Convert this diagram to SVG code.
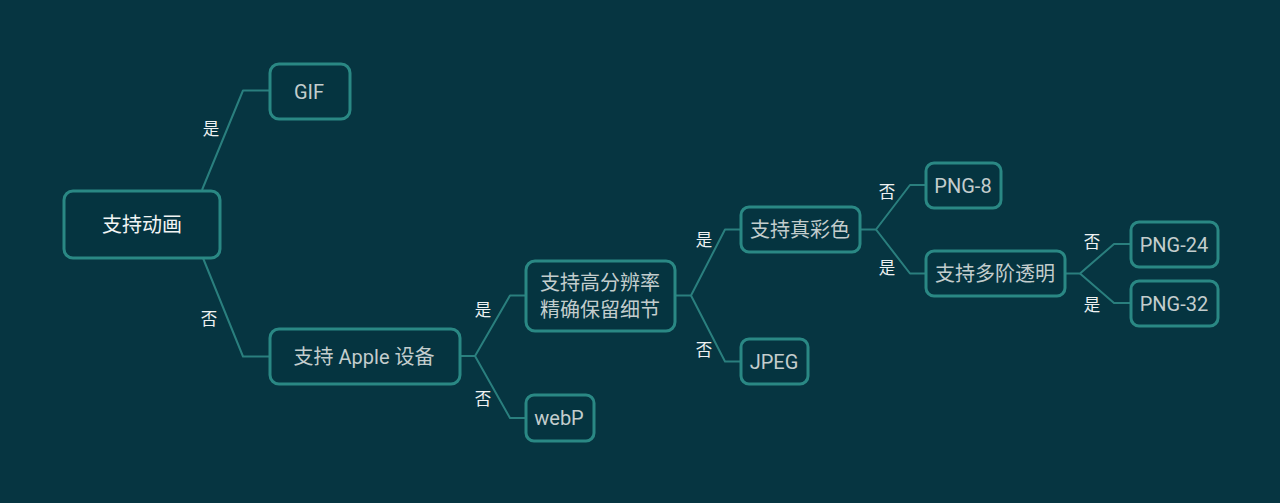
<svg xmlns="http://www.w3.org/2000/svg" width="1280" height="503" viewBox="0 0 1280 503">
<style>
.bg{fill:#063541}
.node rect{fill:#053440;stroke:#2a8884;stroke-width:3}
.node text{font-family:"Roboto","Noto Sans CJK SC",sans-serif;font-size:20px;fill:#c3cdcd;text-anchor:middle;dominant-baseline:central}
#root text{fill:#f2f4f4;font-size:20px}
.conn path{fill:none;stroke:#2a7f7e;stroke-width:2;stroke-linejoin:round}
.lbl{font-family:"Noto Sans CJK SC",sans-serif;font-size:16.5px;fill:#eef2f2;text-anchor:middle;dominant-baseline:central}
</style>
<rect class="bg" width="1280" height="503"/>
<g id="connectors" class="conn">
<path d="M202,190 L243,90.5 L269,90.5"/>
<path d="M203,258 L243,356.5 L269,356.5"/>
<path d="M460,356 L475,356 L510,295.5 L525,295.5"/>
<path d="M475,356 L510,418 L525,418"/>
<path d="M675,295.5 L691,295.5 L725,229.5 L740,229.5"/>
<path d="M691,295.5 L725,361.5 L740,361.5"/>
<path d="M860,229.5 L876,229.5 L910,185 L925,185"/>
<path d="M876,229.5 L910,273.5 L925,273.5"/>
<path d="M1065,273.5 L1080,273.5 L1114,244 L1130,244"/>
<path d="M1080,273.5 L1114,303 L1130,303"/>
</g>
<g id="labels">
<text class="lbl" x="211" y="128">是</text>
<text class="lbl" x="209" y="318">否</text>
<text class="lbl" x="483" y="309">是</text>
<text class="lbl" x="483" y="398">否</text>
<text class="lbl" x="704" y="239">是</text>
<text class="lbl" x="704" y="349">否</text>
<text class="lbl" x="887" y="191">否</text>
<text class="lbl" x="887" y="267">是</text>
<text class="lbl" x="1092" y="241">否</text>
<text class="lbl" x="1092" y="304">是</text>
</g>
<g id="root" class="node"><rect x="64" y="191" width="156" height="67" rx="9"/><text x="142" y="224.5">支持动画</text></g>
<g id="gif" class="node"><rect x="270" y="64" width="80" height="55" rx="9"/><text x="309" y="91.5">GIF</text></g>
<g id="apple" class="node"><rect x="270" y="329" width="190" height="55" rx="9"/><text x="364" y="356.5">支持 Apple 设备</text></g>
<g id="hires" class="node"><rect x="526" y="261" width="149" height="70" rx="9"/><text x="600" y="283">支持高分辨率</text><text x="600" y="310">精确保留细节</text></g>
<g id="webp" class="node"><rect x="526" y="395" width="68" height="46" rx="8"/><text x="559" y="418">webP</text></g>
<g id="truecolor" class="node"><rect x="741" y="207" width="119" height="45" rx="8"/><text x="800" y="229.5">支持真彩色</text></g>
<g id="jpeg" class="node"><rect x="741" y="339" width="67" height="45" rx="8"/><text x="774" y="361.5">JPEG</text></g>
<g id="png8" class="node"><rect x="926" y="163" width="75" height="45" rx="8"/><text x="963" y="185.5">PNG-8</text></g>
<g id="alpha" class="node"><rect x="926" y="251" width="139" height="45" rx="8"/><text x="995" y="273.5">支持多阶透明</text></g>
<g id="png24" class="node"><rect x="1131" y="222" width="87" height="45" rx="8"/><text x="1174" y="244.5">PNG-24</text></g>
<g id="png32" class="node"><rect x="1131" y="281" width="87" height="45" rx="8"/><text x="1174" y="303.5">PNG-32</text></g>
</svg>
